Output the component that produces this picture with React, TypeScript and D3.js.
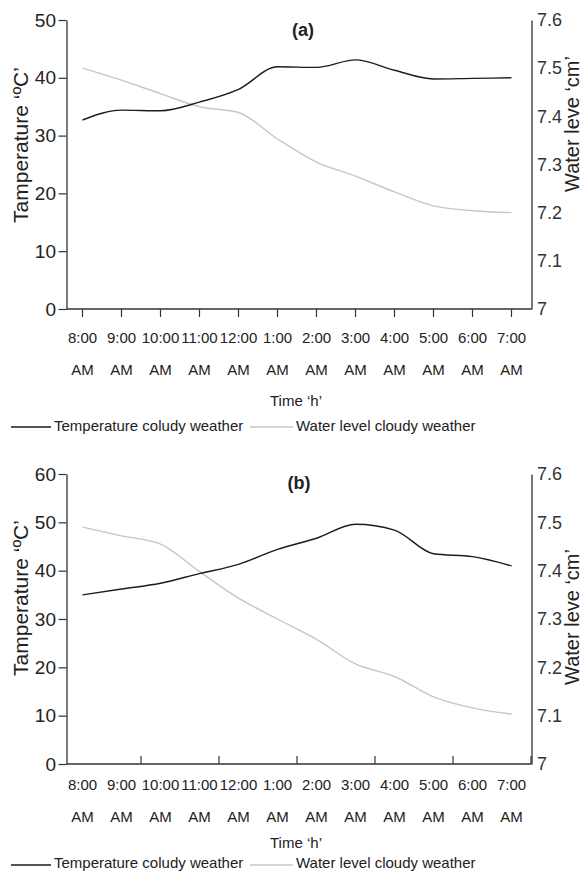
import React, { useEffect, useRef } from 'react';
import * as d3 from 'd3';

// hours along the x axis (all AM in the source figure)
const times = ['8:00', '9:00', '10:00', '11:00', '12:00', '1:00', '2:00', '3:00', '4:00', '5:00', '6:00', '7:00'];
const meridiem = ['AM', 'AM', 'AM', 'AM', 'AM', 'AM', 'AM', 'AM', 'AM', 'AM', 'AM', 'AM'];

// (a) cloudy weather
const tempA = [32.7, 34.4, 34.3, 35.8, 38.0, 41.9, 41.8, 43.1, 41.3, 39.8, 39.9, 40.0];
const waterA = [7.5, 7.475, 7.447, 7.42, 7.408, 7.353, 7.305, 7.276, 7.243, 7.214, 7.204, 7.2];

// (b) cloudy weather
const tempB = [35.0, 36.2, 37.4, 39.4, 41.3, 44.4, 46.7, 49.6, 48.4, 43.5, 42.9, 41.0];
const waterB = [7.49, 7.472, 7.455, 7.398, 7.343, 7.3, 7.258, 7.207, 7.181, 7.139, 7.116, 7.103];

const tempTicksA = [0, 10, 20, 30, 40, 50];
const tempTicksB = [0, 10, 20, 30, 40, 50, 60];
const waterTicks = [7, 7.1, 7.2, 7.3, 7.4, 7.5, 7.6];

const legendLabels = ['Temperature coludy weather', 'Water level cloudy weather'];

const FONT = '"Liberation Sans", Arial, Helvetica, sans-serif';
const INK = '#222';
const TEMP_COLOR = '#1c1c1c';
const WATER_COLOR = '#c6c6c6';

const left = 66.5;
const right = 531.5;

const x = d3.scaleBand<string>().domain(times).range([63, 531]);

function drawPanel(svg, p) {
  const g = svg.append('g');

  const yT = d3.scaleLinear().domain([0, p.tempMax]).range([p.bottom, p.top]);
  const yW = d3.scaleLinear().domain([7, 7.6]).range([p.bottom, p.top]);

  // left axis
  const la = g
    .append('g')
    .attr('transform', `translate(${left},0)`)
    .call(d3.axisLeft(yT).tickValues(p.tempTicks).tickSize(8).tickSizeOuter(0).tickPadding(2.5));
  la.select('.domain').attr('stroke', '#333').attr('stroke-width', 1.3);
  la.selectAll('.tick line').attr('stroke', '#333').attr('stroke-width', 1.2);
  la.selectAll('.tick text').attr('font-family', FONT).attr('font-size', 19).attr('fill', INK);

  // right axis, no tick marks
  const ra = g
    .append('g')
    .attr('transform', `translate(${right},0)`)
    .call(
      d3
        .axisRight(yW)
        .tickValues(waterTicks)
        .tickSize(0)
        .tickSizeOuter(0)
        .tickPadding(5.5)
        .tickFormat((d) => (d === 7 ? '7' : d3.format('.1f')(d)))
    );
  ra.select('.domain').attr('stroke', '#555').attr('stroke-width', 1.6);
  ra.selectAll('.tick text').attr('font-family', FONT).attr('font-size', 18).attr('fill', '#333');

  // x axis line
  g.append('line')
    .attr('x1', left)
    .attr('x2', right)
    .attr('y1', p.bottom)
    .attr('y2', p.bottom)
    .attr('stroke', '#333')
    .attr('stroke-width', 1.3);

  if (p.ticksDown) {
    // ticks under the axis at each hour
    g.append('g')
      .selectAll('line')
      .data(times)
      .enter()
      .append('line')
      .attr('x1', (d) => x(d) + x.bandwidth() / 2)
      .attr('x2', (d) => x(d) + x.bandwidth() / 2)
      .attr('y1', p.bottom)
      .attr('y2', p.bottom + 8)
      .attr('stroke', '#333')
      .attr('stroke-width', 1.2);
  } else {
    // ticks above the axis every two hours
    const edges = times.filter((d, i) => i > 0 && i % 2 === 0).map((d) => x(d));
    edges.push(x.range()[1]);
    g.append('g')
      .selectAll('line')
      .data(edges)
      .enter()
      .append('line')
      .attr('x1', (d) => d)
      .attr('x2', (d) => d)
      .attr('y1', p.bottom)
      .attr('y2', p.bottom - 8)
      .attr('stroke', '#333')
      .attr('stroke-width', 1.2);
  }

  // two-line hour labels
  const labels = g.append('g').attr('font-family', FONT).attr('font-size', 15).attr('fill', INK).attr('text-anchor', 'middle');
  labels
    .selectAll('.hour')
    .data(times)
    .enter()
    .append('text')
    .attr('class', 'hour')
    .attr('x', (d) => x(d) + x.bandwidth() / 2)
    .attr('y', p.row1)
    .text((d) => d);
  labels
    .selectAll('.ampm')
    .data(meridiem)
    .enter()
    .append('text')
    .attr('class', 'ampm')
    .attr('x', (d, i) => x(times[i]) + x.bandwidth() / 2)
    .attr('y', p.row2)
    .text((d) => d);

  g.append('text')
    .attr('x', 296)
    .attr('y', p.timeY)
    .attr('text-anchor', 'middle')
    .attr('font-family', FONT)
    .attr('font-size', 15)
    .attr('fill', INK)
    .text('Time ‘h’');

  // axis titles
  g.append('text')
    .attr('transform', `translate(28,${p.leftTitleY}) rotate(-90)`)
    .attr('text-anchor', 'middle')
    .attr('font-family', FONT)
    .attr('font-size', 21)
    .attr('fill', INK)
    .text('Tamperature ‘ºC’');
  g.append('text')
    .attr('transform', `translate(579,${p.rightTitleY}) rotate(-90)`)
    .attr('text-anchor', 'middle')
    .attr('font-family', FONT)
    .attr('font-size', 20)
    .attr('fill', INK)
    .text('Water leve ‘cm’');

  // panel title
  g.append('text')
    .attr('x', p.titleX)
    .attr('y', p.titleY)
    .attr('text-anchor', 'middle')
    .attr('font-family', FONT)
    .attr('font-size', 18)
    .attr('font-weight', 'bold')
    .attr('fill', INK)
    .text(p.title);

  // the two series
  const cx = (i) => x(times[i]) + x.bandwidth() / 2;
  const waterLine = d3
    .line<number>()
    .x((d, i) => cx(i))
    .y((d) => yW(d))
    .curve(d3.curveMonotoneX);
  const tempLine = d3
    .line<number>()
    .x((d, i) => cx(i))
    .y((d) => yT(d))
    .curve(d3.curveMonotoneX);

  g.append('path')
    .datum(p.water)
    .attr('fill', 'none')
    .attr('stroke', WATER_COLOR)
    .attr('stroke-width', 1.4)
    .attr('d', waterLine);
  g.append('path')
    .datum(p.temp)
    .attr('fill', 'none')
    .attr('stroke', TEMP_COLOR)
    .attr('stroke-width', 1.4)
    .attr('d', tempLine);

  // legend
  const lg = g.append('g').attr('font-family', FONT).attr('font-size', 15).attr('fill', INK);
  lg.append('line').attr('x1', 11).attr('x2', 51).attr('y1', p.legendLineY).attr('y2', p.legendLineY).attr('stroke', TEMP_COLOR).attr('stroke-width', 1.3);
  lg.append('text').attr('x', 54).attr('y', p.legendY).text(legendLabels[0]);
  lg.append('line').attr('x1', 250).attr('x2', 293).attr('y1', p.legendLineY).attr('y2', p.legendLineY).attr('stroke', WATER_COLOR).attr('stroke-width', 1.3);
  lg.append('text').attr('x', 296).attr('y', p.legendY).text(legendLabels[1]);
}

export default function App() {
  const ref = useRef(null);

  useEffect(() => {
    const svg = d3.select(ref.current);
    svg.selectAll('*').remove();

    drawPanel(svg, {
      title: '(a)',
      temp: tempA,
      water: waterA,
      tempMax: 50,
      tempTicks: tempTicksA,
      top: 20,
      bottom: 309,
      ticksDown: true,
      row1: 343,
      row2: 375,
      timeY: 406,
      legendY: 431,
      legendLineY: 427,
      leftTitleY: 145,
      rightTitleY: 124,
      titleX: 303,
      titleY: 36,
    });

    drawPanel(svg, {
      title: '(b)',
      temp: tempB,
      water: waterB,
      tempMax: 60,
      tempTicks: tempTicksB,
      top: 474,
      bottom: 764,
      ticksDown: false,
      row1: 790,
      row2: 822,
      timeY: 848,
      legendY: 868,
      legendLineY: 865,
      leftTitleY: 598,
      rightTitleY: 617,
      titleX: 299,
      titleY: 489,
    });
  }, []);

  return (
    <svg
      ref={ref}
      width={583}
      height={872}
      style={{ position: 'absolute', left: 0, top: 0, background: '#fff' }}
    />
  );
}
